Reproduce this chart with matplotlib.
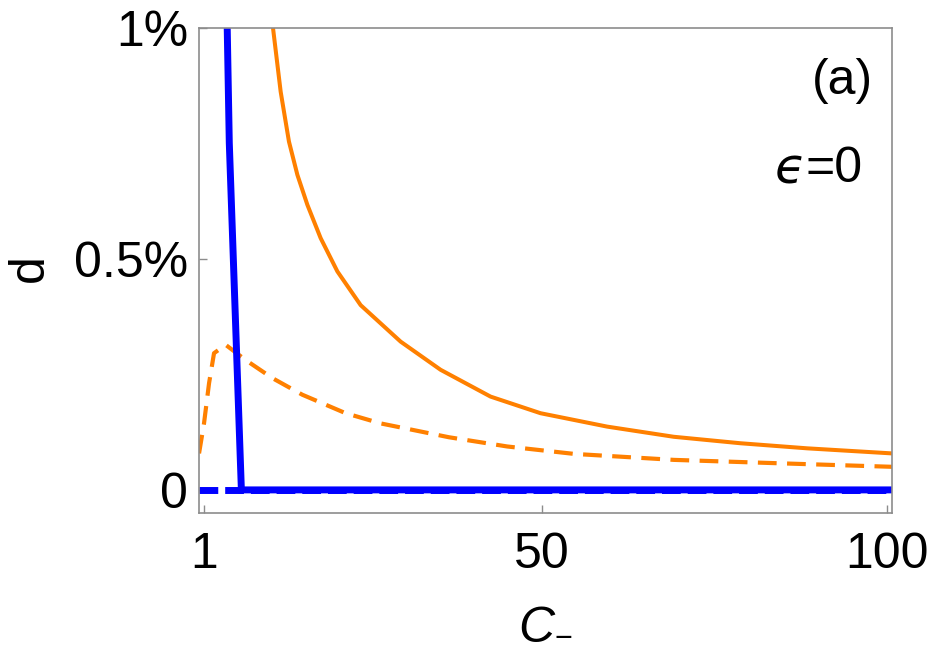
import matplotlib
matplotlib.use('Agg')
import matplotlib.pyplot as plt
from matplotlib.ticker import FixedLocator, FixedFormatter

plt.rcParams['font.family'] = ['Liberation Sans', 'DejaVu Sans']

# values (x = C_-, y = d)
solid_orange_x = [10.6, 11.03, 12.14, 13.34, 14.56, 16.01, 17.93, 20.35, 23.72, 29.51,
                  35.30, 42.53, 49.77, 59.42, 69.06, 78.71, 88.37, 100.67]
solid_orange_y = [0.0106, 0.0100, 0.00862, 0.00754, 0.00682, 0.00617, 0.00545, 0.00473,
                  0.00400, 0.00321, 0.00260, 0.00202, 0.00166, 0.00137, 0.00115, 0.00101,
                  0.00090, 0.00079]

dash_orange_x = [0.32, 1.04, 1.77, 2.49, 4.18, 7.08, 10.94, 15.28, 21.55, 26.6, 36.5,
                 44.95, 54.59, 69.06, 83.53, 100.67]
dash_orange_y = [0.00079, 0.00144, 0.00231, 0.00296, 0.00314, 0.00281, 0.00242, 0.00206,
                 0.00166, 0.00144, 0.00114, 0.00094, 0.00078, 0.00065, 0.00058, 0.00050]

blue_x = [4.3, 4.4, 4.7, 6.45, 100.67]
blue_y = [0.0105, 0.0100, 0.00751, 0.0, 0.0]

blue_dash_x = [0.32, 100.67]
blue_dash_y = [0.0, 0.0]

x_ticks = [1, 50, 100]
x_labels = ['1', '50', '100']
y_ticks = [0, 0.005, 0.01]
y_labels = ['0', '0.5%', '1%']

ORANGE = '#ff8000'
BLUE = '#0000ff'
GRAY = '#8c8c8c'

fig = plt.figure(figsize=(9.38, 6.55), dpi=100)
ax = fig.add_axes([0.2122, 0.2168, 0.951 - 0.2122, 0.9573 - 0.2168])

ax.plot(blue_dash_x, blue_dash_y, color=BLUE, lw=5, dashes=(2.7, 1.0), solid_capstyle='butt')
ax.plot(dash_orange_x, dash_orange_y, color=ORANGE, lw=3.0, dashes=(4.5, 2.5))
ax.plot(solid_orange_x, solid_orange_y, color=ORANGE, lw=2.9)
ax.plot(blue_x, blue_y, color=BLUE, lw=5, solid_joinstyle='miter')

ax.set_xlim(0.32, 100.67)
ax.set_ylim(-0.0005, 0.01)

ax.xaxis.set_major_locator(FixedLocator(x_ticks))
ax.xaxis.set_major_formatter(FixedFormatter(x_labels))
ax.yaxis.set_major_locator(FixedLocator(y_ticks))
ax.yaxis.set_major_formatter(FixedFormatter(y_labels))

ax.tick_params(direction='in', length=6, width=1, color=GRAY, labelsize=36)
ax.tick_params(axis='x', pad=14)
ax.tick_params(axis='y', pad=8)
for s in ax.spines.values():
    s.set_color(GRAY)
    s.set_linewidth(1.2)

# x label: italic C with a subscript minus
fig.text(536 / 938, 13 / 655, 'C', fontsize=36, style='italic', ha='center', va='baseline')
fig.text(563 / 938, 1.5 / 655, '\u2212', fontsize=22, ha='center', va='bottom')
fig.text(30 / 938, 1 - 268 / 655, 'd', fontsize=36, rotation=90, ha='center', va='center')

ax.text(0.9726, 0.891, '(a)', transform=ax.transAxes, fontsize=36, ha='right', va='center')
eq = ax.text(0.958, 0.709, '=0', transform=ax.transAxes, fontsize=36, ha='right', va='center')
ax.annotate('ϵ', xy=(0, 0.5), xycoords=eq, fontsize=36, family='DejaVu Sans',
            style='italic', ha='right', va='center')

fig.savefig('out.png', dpi=100)
